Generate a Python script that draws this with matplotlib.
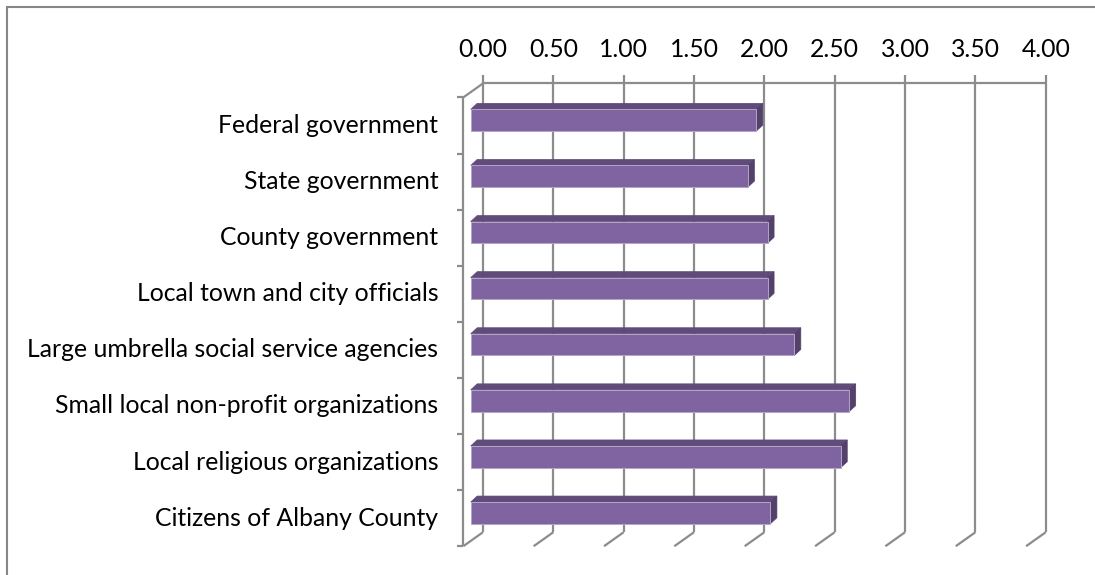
import matplotlib
matplotlib.use("Agg")
import matplotlib.pyplot as plt
from matplotlib.lines import Line2D
from matplotlib.patches import Polygon, Rectangle
from matplotlib.transforms import IdentityTransform

# Survey means by institution
categories = [
    "Federal government",
    "State government",
    "County government",
    "Local town and city officials",
    "Large umbrella social service agencies",
    "Small local non-profit organizations",
    "Local religious organizations",
    "Citizens of Albany County",
]
scores = [2.03, 1.97, 2.11, 2.11, 2.30, 2.69, 2.63, 2.13]
ticks = [0.0, 0.5, 1.0, 1.5, 2.0, 2.5, 3.0, 3.5, 4.0]
tick_labels = [f"{t:.2f}" for t in ticks]

W, H = 1095, 575
FONT = "Lato"
FS = 17.8
GRID = "#8c8c8c"
FRONT = "#8064a2"
TOP = "#604b7b"
SIDE = "#53406b"

# offsets (pixels) of the back wall and front edge relative to the bar face plane
BACK = (12.3, 8.75)
FRONT_EDGE = (-7.4, -5.25)
BAR_DEPTH = (6.5, 6.0)

fig = plt.figure(figsize=(W / 100, H / 100), dpi=100)
fig.patch.set_facecolor("white")


def frac(left, top, w, h):
    return [left / W, 1 - (top + h) / H, w / W, h / H]


ax = fig.add_axes(frac(470.7, 92.15, 562.8, 448.8))
n = len(categories)
ax.set_xlim(ticks[0], ticks[-1])
ax.set_ylim(n - 0.5, -0.5)
ax.axis("off")


def pt(v, c, off=(0.0, 0.0), extra=(0.0, 0.0)):
    x, y = ax.transData.transform((v, c))
    return (x + off[0] + extra[0], y + off[1] + extra[1])


ident = IdentityTransform()


def seg(p, q, z=1, lw=1.6, color=GRID):
    ax.add_artist(Line2D([p[0], q[0]], [p[1], q[1]], transform=ident,
                         color=color, lw=lw, clip_on=False, zorder=z,
                         solid_capstyle="butt"))


# back wall grid lines, with small marks above the wall
for v in ticks:
    seg(pt(v, n - 0.5, BACK), pt(v, -0.5, BACK, (0, 8.3)))
    # floor edges
    seg(pt(v, n - 0.5, BACK), pt(v, n - 0.5, FRONT_EDGE))
seg(pt(ticks[0], -0.5, BACK), pt(ticks[-1], -0.5, BACK))

# left wall
seg(pt(0, -0.5, BACK), pt(0, -0.5, FRONT_EDGE))
seg(pt(0, -0.5, FRONT_EDGE), pt(0, n - 0.5, FRONT_EDGE))
for b in range(n + 1):
    c = b - 0.5
    seg(pt(0, c, FRONT_EDGE), pt(0, c, FRONT_EDGE, (-6.6, 0)))

# bars
bh = 21.7 / 56.1
ax.barh(range(n), scores, height=bh, color=FRONT, edgecolor="#b3a5c6",
        linewidth=0.7, zorder=5)
for i, v in enumerate(scores):
    top, bot = i - bh / 2, i + bh / 2
    top_face = [pt(0, top), pt(v, top), pt(v, top, BAR_DEPTH), pt(0, top, BAR_DEPTH)]
    side_face = [pt(v, top), pt(v, bot), pt(v, bot, BAR_DEPTH), pt(v, top, BAR_DEPTH)]
    ax.add_patch(Polygon(top_face, closed=True, transform=ident, facecolor=TOP,
                         edgecolor=TOP, lw=0.5, clip_on=False, zorder=4))
    ax.add_patch(Polygon(side_face, closed=True, transform=ident, facecolor=SIDE,
                         edgecolor=SIDE, lw=0.5, clip_on=False, zorder=4))

# value axis labels along the top
for v, lab in zip(ticks, tick_labels):
    x = pt(v, -0.5, BACK)[0]
    fig.text(x, H - 49.5, lab, transform=ident, ha="center", va="center",
             fontsize=FS, family=FONT, color="black")

# category labels
for i, lab in enumerate(categories):
    y = pt(0, i, FRONT_EDGE)[1]
    fig.text(438.3, y, lab, transform=ident, ha="right", va="center",
             fontsize=FS, family=FONT, color="black")

# chart area border
fig.add_artist(Rectangle((7, -10), W + 20, H - 7 + 10, transform=ident,
                         fill=False, edgecolor="#868686", lw=1.5))

fig.savefig("out.png", dpi=100)
